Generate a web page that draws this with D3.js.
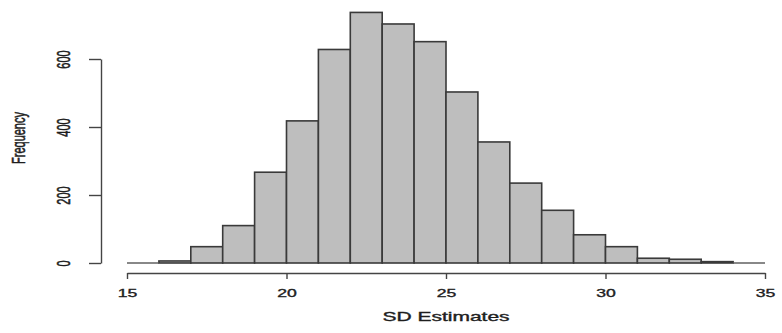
<!DOCTYPE html>
<html>
<head>
<meta charset="utf-8">
<script src="https://cdn.jsdelivr.net/npm/d3@7"></script>
<style>
    html, body { margin: 0; padding: 0; background: #fff; }
    svg { display: block; }
    text { font-family: "Liberation Sans", Arial, sans-serif; fill: #1e1e1e; stroke: #1e1e1e; stroke-width: 0.35px; }
</style>
</head>
<body>
<div id="chart"></div>
<script>
// histogram bins (left edges, width 1) and their counts
const binStarts = [15, 16, 17, 18, 19, 20, 21, 22, 23, 24, 25, 26, 27, 28, 29, 30, 31, 32, 33, 34];
const counts = [0, 6, 48, 110, 267, 418, 628, 737, 703, 651, 503, 356, 235, 155, 83, 48, 14, 11, 4, 0];
const binWidth = 1;

const xTicks = [15, 20, 25, 30, 35];
const yTicks = [0, 200, 400, 600];

const xLabel = "SD Estimates";
const yLabel = "Frequency";

const width = 782;
const height = 333;
// the picture is stretched sideways, so text gets the same squash
const stretch = 1.6;

const svg = d3.select("#chart")
    .append("svg")
    .attr("width", width)
    .attr("height", height);

const x = d3.scaleLinear()
    .domain([15, 35])
    .range([127, 765]);

const y = d3.scaleLinear()
    .domain([0, 600])
    .range([263, 59]);

// Bars
svg.selectAll(".bar")
    .data(binStarts)
    .join("rect")
    .attr("class", "bar")
    .attr("x", d => x(d))
    .attr("width", d => x(d + binWidth) - x(d))
    .attr("y", (d, i) => y(counts[i]))
    .attr("height", (d, i) => y(0) - y(counts[i]))
    .attr("fill", "#bebebe")
    .attr("stroke", "#3a3a3a")
    .attr("stroke-width", 1.6);

// empty bins still show their bottom edge, like R does
svg.selectAll(".empty")
    .data(binStarts.filter((d, i) => counts[i] === 0))
    .join("line")
    .attr("class", "empty")
    .attr("x1", d => x(d))
    .attr("x2", d => x(d + binWidth))
    .attr("y1", y(0))
    .attr("y2", y(0))
    .attr("stroke", "#555")
    .attr("stroke-width", 1.4);

// X axis
const xAxisG = svg.append("g")
    .attr("transform", `translate(0,273)`)
    .call(d3.axisBottom(x).tickValues(xTicks).tickSize(6).tickSizeOuter(0).tickFormat(d3.format("d")));

xAxisG.select(".domain").attr("stroke", "#444").attr("stroke-width", 1.4);
xAxisG.selectAll(".tick line").attr("stroke", "#444").attr("stroke-width", 1.4);
xAxisG.selectAll(".tick text")
    .attr("y", 0)
    .attr("dy", 0)
    .attr("font-size", "11px")
    .attr("text-anchor", "middle")
    .attr("dominant-baseline", "central")
    .attr("transform", `translate(0,20) scale(${stretch},1)`);

// Y axis
const yAxisG = svg.append("g")
    .attr("transform", `translate(101,0)`)
    .call(d3.axisLeft(y).tickValues(yTicks).tickSize(12).tickSizeOuter(0).tickFormat(d3.format("d")));

yAxisG.select(".domain").attr("stroke", "#444").attr("stroke-width", 1.4);
yAxisG.selectAll(".tick line").attr("stroke", "#444").attr("stroke-width", 1.4);
yAxisG.selectAll(".tick text")
    .attr("x", 0)
    .attr("dy", 0)
    .attr("font-size", "11px")
    .attr("text-anchor", "middle")
    .attr("dominant-baseline", "central")
    .attr("transform", `translate(-37,0) scale(${stretch},1) rotate(-90)`);

// Axis titles
svg.append("text")
    .attr("transform", `translate(446,317) scale(1.75,1)`)
    .attr("text-anchor", "middle")
    .attr("dominant-baseline", "central")
    .attr("font-size", "12px")
    .text(xLabel);

svg.append("text")
    .attr("transform", `translate(19,138) scale(${stretch},1) rotate(-90)`)
    .attr("text-anchor", "middle")
    .attr("dominant-baseline", "central")
    .attr("font-size", "11px")
    .text(yLabel);
</script>
</body>
</html>
